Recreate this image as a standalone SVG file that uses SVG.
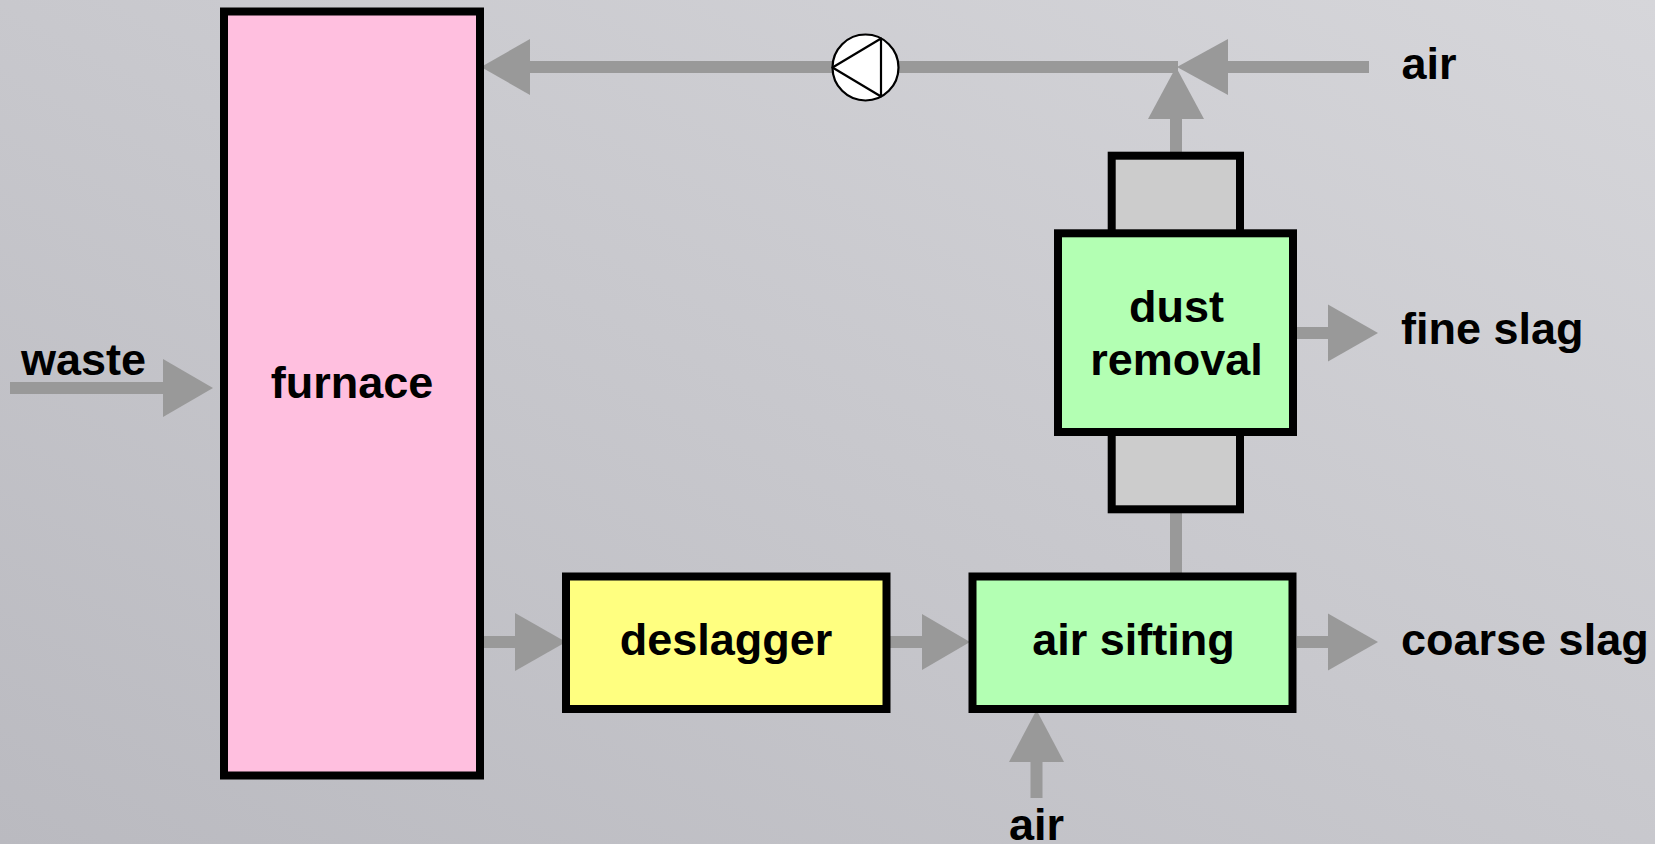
<svg xmlns="http://www.w3.org/2000/svg" width="1655" height="844" viewBox="0 0 1655 844">
<defs>
<linearGradient id="bg" x1="0" y1="1" x2="1" y2="0">
<stop offset="0" stop-color="#babac0"/>
<stop offset="1" stop-color="#d6d6da"/>
</linearGradient>
<style>
.box{stroke:#000;stroke-width:8}
.lbl{font-family:"Liberation Sans",Arial,sans-serif;font-weight:bold;font-size:45px;fill:#000}
.mid{text-anchor:middle}
.ln{stroke:#999;stroke-width:12;fill:none}
.ah{fill:#999}
</style>
</defs>
<rect width="1655" height="844" fill="url(#bg)"/>

<g id="connectors">
<line class="ln" x1="528" y1="67" x2="833" y2="67"/>
<line class="ln" x1="898" y1="67" x2="1178" y2="67"/>
<polygon class="ah" points="481,67 530,39 530,95"/>
<line class="ln" x1="1226" y1="67" x2="1369" y2="67"/>
<polygon class="ah" points="1177,67 1228,39 1228,95"/>
<line class="ln" x1="1176" y1="117" x2="1176" y2="152"/>
<polygon class="ah" points="1176,67 1148,119 1204,119"/>
<g id="pump">
<circle cx="865.5" cy="67.5" r="33" fill="#fff" stroke="#000" stroke-width="2.2"/>
<polygon points="832.5,67.5 881,38.5 881,96.5" fill="#fff" stroke="#000" stroke-width="2.2" stroke-linejoin="round"/>
</g>
<line class="ln" x1="1176" y1="512" x2="1176" y2="573"/>
<line class="ln" x1="10" y1="388" x2="165" y2="388"/>
<polygon class="ah" points="213,388 163,359 163,417"/>
<line class="ln" x1="484" y1="642" x2="517" y2="642"/>
<polygon class="ah" points="566,642 515,613 515,671"/>
<line class="ln" x1="890" y1="642" x2="924" y2="642"/>
<polygon class="ah" points="970,642 922,614 922,670"/>
<line class="ln" x1="1297" y1="333" x2="1330" y2="333"/>
<polygon class="ah" points="1378,333 1328,304.5 1328,361.5"/>
<line class="ln" x1="1297" y1="642" x2="1330" y2="642"/>
<polygon class="ah" points="1378,642 1328,613.5 1328,670.5"/>
<line class="ln" x1="1036.5" y1="798" x2="1036.5" y2="759"/>
<polygon class="ah" points="1036.5,710 1009,762 1064,762"/>
</g>

<g id="furnace">
<rect class="box" x="224" y="11.5" width="256" height="764" fill="#ffbfdf"/>
<text class="lbl mid" x="352" y="398">furnace</text>
</g>

<g id="deslagger">
<rect class="box" x="566" y="576.5" width="320.5" height="132.5" fill="#ffff80"/>
<text class="lbl mid" x="726" y="655">deslagger</text>
</g>

<g id="air-sifting">
<rect class="box" x="972.5" y="576.5" width="320" height="132.5" fill="#b3ffb3"/>
<text class="lbl mid" x="1133.5" y="655">air sifting</text>
</g>

<g id="dust-removal">
<rect class="box" x="1111.7" y="155.7" width="128.3" height="90" fill="#cccccc"/>
<rect class="box" x="1111.7" y="420" width="128.3" height="89.3" fill="#cccccc"/>
<rect class="box" x="1058" y="233.3" width="235" height="198.7" fill="#b3ffb3"/>
<text class="lbl mid" x="1176.5" y="322">dust</text>
<text class="lbl mid" x="1176.5" y="375">removal</text>
</g>

<g id="labels">
<text class="lbl" x="21" y="375">waste</text>
<text class="lbl" x="1401.5" y="78.5">air</text>
<text class="lbl" x="1401" y="344">fine slag</text>
<text class="lbl" x="1401" y="655">coarse slag</text>
<text class="lbl mid" x="1036.5" y="840">air</text>
</g>
</svg>
